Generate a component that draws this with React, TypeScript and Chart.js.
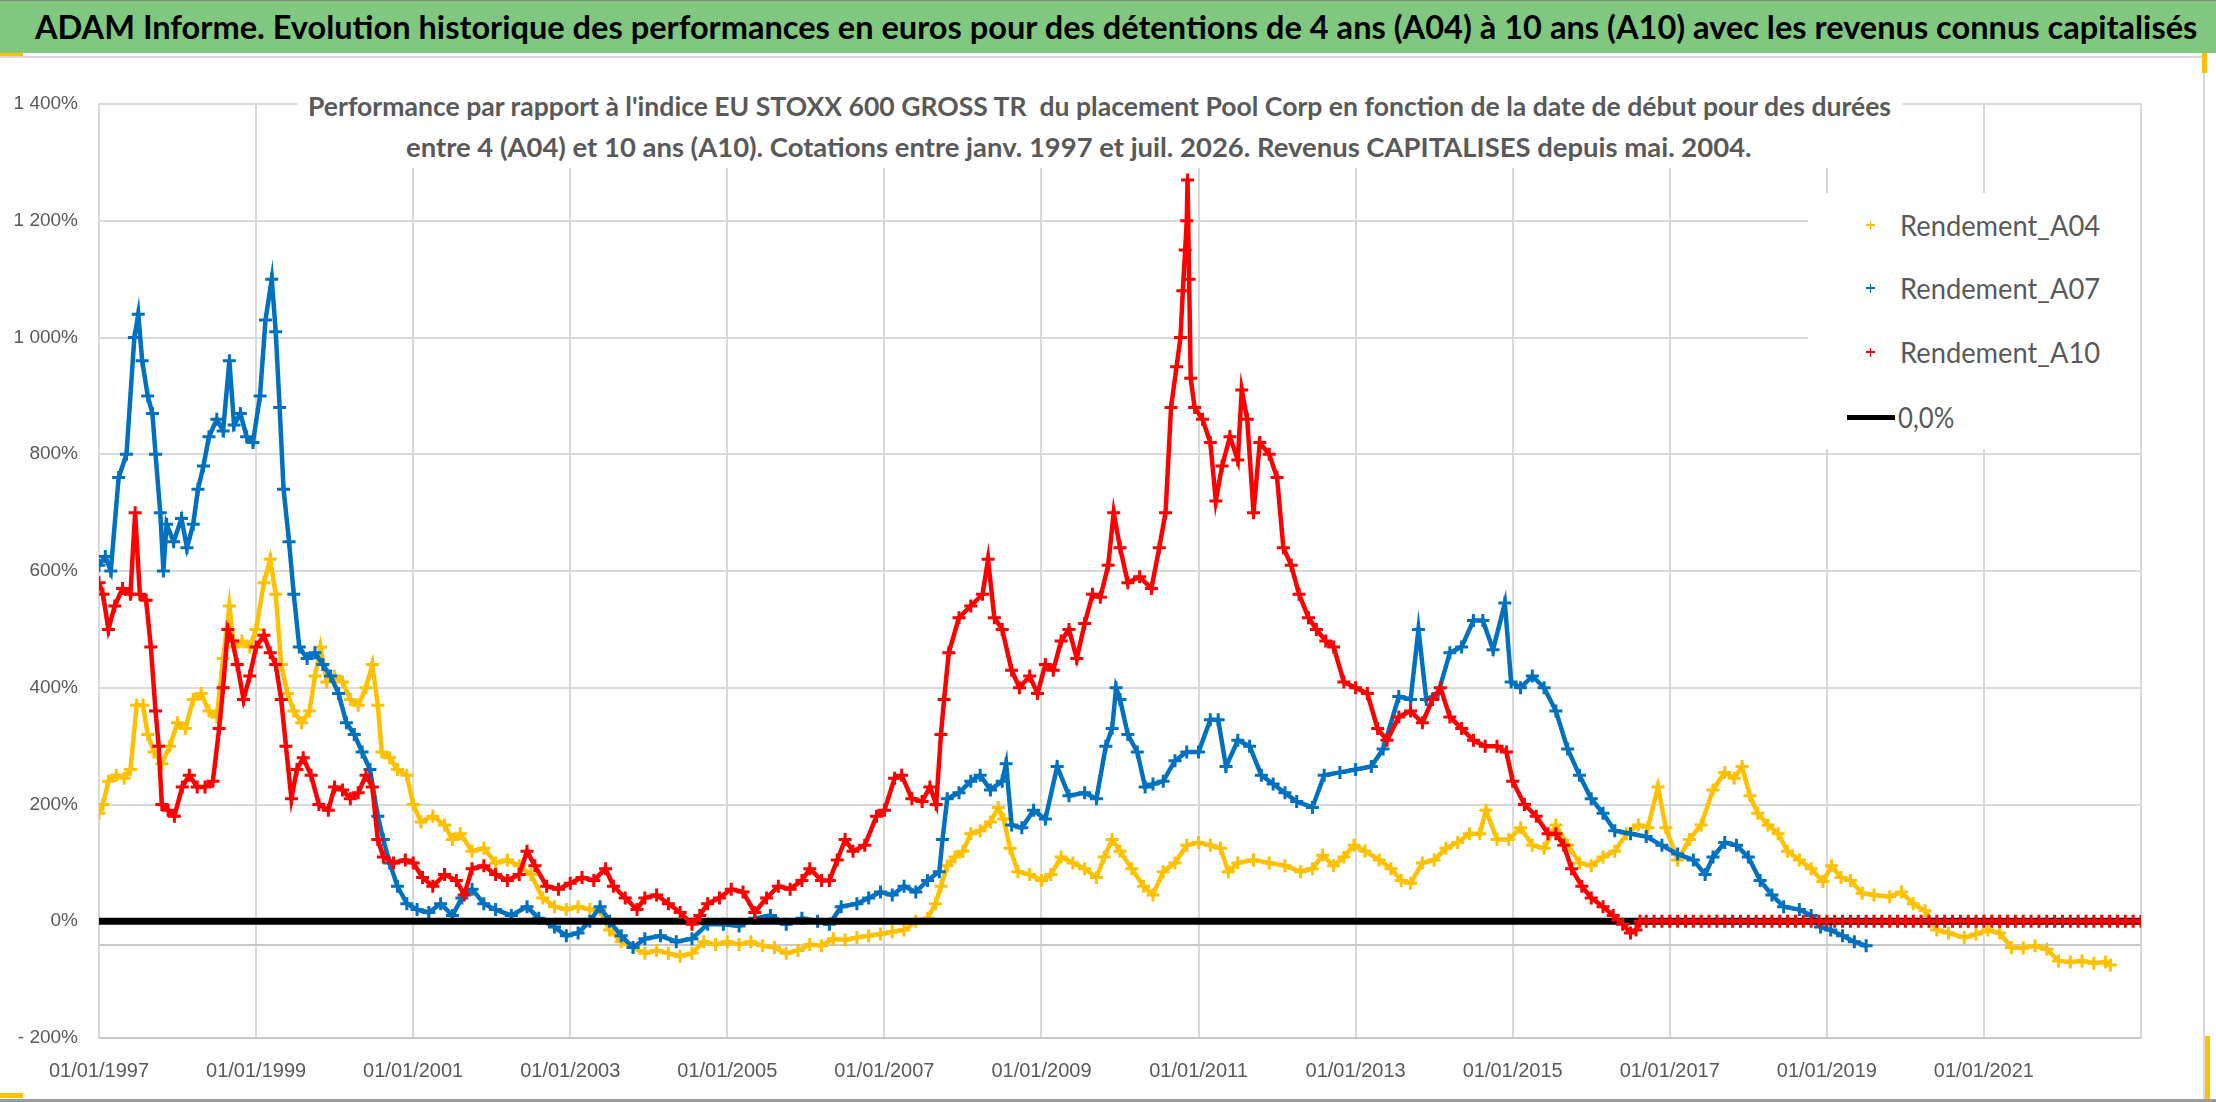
import { useEffect, useLayoutEffect, useRef } from 'react';
import { Chart, registerables } from 'chart.js';

Chart.register(...registerables);

const TEXT_FONT = "Lato, 'Liberation Sans', sans-serif";
const TICK_FONT = "'Liberation Sans', Arial, sans-serif";
const GREY_TEXT = '#595959';

const titleText =
    'ADAM Informe. Evolution historique des performances en euros pour des détentions de 4 ans (A04) à 10 ans (A10) avec les revenus connus capitalisés';
const subtitleLines = [
    "Performance par rapport à l'indice EU STOXX 600 GROSS TR  du placement Pool Corp en fonction de la date de début pour des durées",
    'entre 4 (A04) et 10 ans (A10). Cotations entre janv. 1997 et juil. 2026. Revenus CAPITALISES depuis mai. 2004.',
];

// [date as decimal year, performance in %]
const a04: [number, number][] = [
    [1997.0, 185], [1997.05, 200], [1997.12, 240], [1997.22, 250], [1997.32, 245], [1997.4, 260], [1997.48, 370],
    [1997.56, 370], [1997.62, 320], [1997.7, 290], [1997.8, 270], [1997.9, 300], [1998.0, 340], [1998.1, 330],
    [1998.2, 380], [1998.3, 390], [1998.4, 360], [1998.5, 350], [1998.58, 450], [1998.66, 540], [1998.72, 470],
    [1998.82, 480], [1998.92, 470], [1999.0, 500], [1999.1, 580], [1999.18, 620], [1999.25, 560], [1999.32, 440],
    [1999.4, 390], [1999.48, 360], [1999.58, 340], [1999.68, 360], [1999.75, 420], [1999.82, 470], [1999.9, 410],
    [2000.0, 420], [2000.1, 410], [2000.2, 380], [2000.3, 370], [2000.4, 400], [2000.48, 440], [2000.55, 370],
    [2000.6, 290], [2000.7, 280], [2000.8, 260], [2000.92, 250], [2001.0, 200], [2001.1, 170], [2001.25, 180],
    [2001.4, 165], [2001.5, 140], [2001.6, 150], [2001.75, 120], [2001.9, 125], [2002.05, 100], [2002.2, 105],
    [2002.35, 95], [2002.5, 80], [2002.65, 40], [2002.8, 25], [2002.95, 20], [2003.1, 25], [2003.25, 20],
    [2003.38, 20], [2003.5, -15], [2003.65, -35], [2003.8, -45], [2003.95, -55], [2004.1, -50], [2004.25, -55],
    [2004.4, -60], [2004.55, -55], [2004.7, -35], [2004.85, -40], [2005.0, -35], [2005.15, -40], [2005.3, -35],
    [2005.45, -42], [2005.6, -45], [2005.75, -55], [2005.9, -50], [2006.05, -40], [2006.2, -42], [2006.35, -30],
    [2006.5, -32], [2006.65, -28], [2006.8, -25], [2006.95, -22], [2007.1, -18], [2007.25, -15], [2007.4, 0],
    [2007.55, 5], [2007.65, 30], [2007.72, 60], [2007.8, 95], [2007.9, 110], [2008.0, 120], [2008.1, 150],
    [2008.22, 155], [2008.35, 170], [2008.45, 195], [2008.52, 175], [2008.6, 125], [2008.7, 85], [2008.85, 80],
    [2009.0, 70], [2009.12, 80], [2009.25, 110], [2009.4, 100], [2009.55, 90], [2009.7, 75], [2009.8, 110],
    [2009.9, 140], [2010.0, 120], [2010.15, 90], [2010.3, 60], [2010.42, 45], [2010.55, 85], [2010.7, 100],
    [2010.85, 130], [2011.0, 135], [2011.15, 130], [2011.28, 125], [2011.38, 85], [2011.5, 100], [2011.7, 105],
    [2011.9, 100], [2012.1, 95], [2012.3, 85], [2012.45, 90], [2012.58, 113], [2012.72, 95], [2012.85, 110],
    [2012.98, 130], [2013.12, 120], [2013.3, 105], [2013.45, 90], [2013.58, 70], [2013.7, 65], [2013.85, 100],
    [2014.0, 105], [2014.15, 125], [2014.3, 135], [2014.45, 150], [2014.58, 150], [2014.66, 190], [2014.8, 140],
    [2014.95, 140], [2015.1, 160], [2015.25, 130], [2015.4, 125], [2015.55, 165], [2015.7, 130], [2015.85, 100],
    [2016.0, 95], [2016.15, 110], [2016.3, 120], [2016.45, 150], [2016.6, 165], [2016.72, 160], [2016.85, 230],
    [2016.95, 160], [2017.1, 105], [2017.25, 140], [2017.4, 165], [2017.55, 225], [2017.7, 255], [2017.82, 245],
    [2017.92, 265], [2018.02, 215], [2018.12, 185], [2018.25, 165], [2018.38, 150], [2018.5, 120], [2018.65, 105],
    [2018.8, 90], [2018.95, 68], [2019.06, 95], [2019.18, 75], [2019.3, 70], [2019.45, 48], [2019.6, 45],
    [2019.8, 42], [2019.95, 50], [2020.1, 30], [2020.25, 18], [2020.4, -15], [2020.55, -20], [2020.75, -28],
    [2020.9, -22], [2021.05, -15], [2021.2, -20], [2021.35, -45], [2021.5, -46], [2021.65, -42], [2021.8, -48],
    [2021.95, -68], [2022.1, -70], [2022.25, -68], [2022.4, -72], [2022.55, -70], [2022.61, -75],
];

const a07: [number, number][] = [
    [1997.0, 610], [1997.08, 625], [1997.15, 600], [1997.25, 760], [1997.35, 800], [1997.45, 1000], [1997.5, 1040],
    [1997.55, 960], [1997.62, 900], [1997.68, 870], [1997.72, 800], [1997.78, 700], [1997.82, 600], [1997.86, 680],
    [1997.95, 650], [1998.05, 690], [1998.12, 640], [1998.2, 680], [1998.26, 740], [1998.33, 780], [1998.4, 830],
    [1998.5, 860], [1998.58, 840], [1998.66, 960], [1998.72, 850], [1998.8, 870], [1998.88, 830], [1998.96, 820],
    [1999.05, 900], [1999.12, 1030], [1999.2, 1100], [1999.25, 1010], [1999.3, 880], [1999.35, 740], [1999.42, 650],
    [1999.48, 560], [1999.55, 470], [1999.65, 450], [1999.75, 460], [1999.85, 440], [1999.95, 420], [2000.05, 390],
    [2000.15, 340], [2000.25, 320], [2000.35, 290], [2000.45, 260], [2000.55, 180], [2000.62, 140], [2000.7, 100],
    [2000.8, 60], [2000.92, 30], [2001.05, 20], [2001.2, 15], [2001.35, 30], [2001.5, 10], [2001.62, 40],
    [2001.75, 55], [2001.9, 30], [2002.05, 20], [2002.25, 10], [2002.45, 25], [2002.6, 5], [2002.8, -10],
    [2002.95, -25], [2003.1, -20], [2003.25, 0], [2003.38, 25], [2003.5, 0], [2003.65, -25], [2003.8, -45],
    [2003.95, -30], [2004.15, -25], [2004.35, -35], [2004.55, -30], [2004.75, -5], [2004.95, -5], [2005.15, -8],
    [2005.35, 5], [2005.55, 10], [2005.75, -5], [2005.95, 5], [2006.15, 0], [2006.3, -5], [2006.45, 25],
    [2006.65, 30], [2006.8, 40], [2006.95, 50], [2007.1, 45], [2007.25, 60], [2007.4, 50], [2007.55, 70],
    [2007.7, 85], [2007.74, 140], [2007.8, 210], [2007.95, 220], [2008.1, 240], [2008.22, 250], [2008.35, 225],
    [2008.5, 240], [2008.55, 270], [2008.62, 165], [2008.75, 160], [2008.9, 190], [2009.05, 175], [2009.2, 265],
    [2009.35, 215], [2009.55, 220], [2009.7, 210], [2009.82, 300], [2009.9, 330], [2009.95, 400], [2010.0, 380],
    [2010.1, 320], [2010.22, 290], [2010.32, 230], [2010.42, 235], [2010.55, 240], [2010.7, 275], [2010.85, 290],
    [2011.0, 290], [2011.15, 345], [2011.25, 345], [2011.35, 265], [2011.5, 310], [2011.65, 300], [2011.8, 250],
    [2011.95, 235], [2012.1, 220], [2012.25, 205], [2012.45, 195], [2012.6, 250], [2012.8, 255], [2013.0, 260],
    [2013.2, 265], [2013.35, 295], [2013.55, 385], [2013.7, 380], [2013.8, 500], [2013.9, 380], [2014.05, 390],
    [2014.2, 460], [2014.35, 470], [2014.5, 515], [2014.62, 515], [2014.75, 465], [2014.9, 545], [2014.98, 410],
    [2015.1, 400], [2015.25, 420], [2015.4, 400], [2015.55, 360], [2015.7, 295], [2015.85, 250], [2016.0, 210],
    [2016.15, 185], [2016.3, 155], [2016.5, 150], [2016.7, 145], [2016.9, 130], [2017.1, 115], [2017.3, 105],
    [2017.45, 80], [2017.55, 110], [2017.7, 135], [2017.85, 130], [2018.0, 110], [2018.15, 70], [2018.3, 45],
    [2018.45, 25], [2018.65, 20], [2018.8, 10], [2018.92, -10], [2019.05, -15], [2019.2, -25], [2019.35, -35],
    [2019.5, -42],
];

const a10: [number, number][] = [
    [1997.0, 580], [1997.05, 560], [1997.12, 500], [1997.2, 540], [1997.3, 570], [1997.4, 560], [1997.46, 700],
    [1997.52, 560], [1997.6, 550], [1997.66, 470], [1997.72, 360], [1997.76, 300], [1997.8, 200], [1997.88, 190],
    [1997.96, 180], [1998.06, 230], [1998.15, 250], [1998.25, 230], [1998.35, 230], [1998.45, 240], [1998.53, 330],
    [1998.58, 400], [1998.64, 500], [1998.7, 480], [1998.76, 440], [1998.84, 380], [1998.92, 420], [1999.0, 470],
    [1999.1, 490], [1999.18, 460], [1999.25, 440], [1999.32, 380], [1999.38, 300], [1999.45, 210], [1999.52, 260],
    [1999.6, 280], [1999.7, 250], [1999.8, 200], [1999.92, 190], [2000.0, 230], [2000.1, 225], [2000.2, 210],
    [2000.3, 220], [2000.4, 250], [2000.48, 230], [2000.55, 140], [2000.62, 110], [2000.75, 100], [2000.9, 105],
    [2001.0, 100], [2001.12, 75], [2001.25, 60], [2001.4, 80], [2001.55, 70], [2001.65, 45], [2001.75, 90],
    [2001.9, 95], [2002.05, 80], [2002.2, 70], [2002.35, 80], [2002.45, 120], [2002.55, 95], [2002.7, 60],
    [2002.85, 55], [2003.0, 65], [2003.15, 75], [2003.3, 70], [2003.45, 90], [2003.55, 60], [2003.7, 40],
    [2003.85, 20], [2003.95, 40], [2004.1, 45], [2004.25, 30], [2004.4, 15], [2004.55, -5], [2004.65, 10],
    [2004.75, 30], [2004.9, 40], [2005.05, 55], [2005.2, 50], [2005.35, 15], [2005.5, 40], [2005.65, 60],
    [2005.8, 55], [2005.95, 70], [2006.05, 90], [2006.2, 70], [2006.3, 70], [2006.4, 105], [2006.5, 140],
    [2006.6, 120], [2006.75, 130], [2006.9, 180], [2007.0, 190], [2007.13, 245], [2007.22, 250], [2007.35, 210],
    [2007.48, 205], [2007.58, 230], [2007.66, 200], [2007.72, 320], [2007.76, 380], [2007.82, 460], [2007.95, 520],
    [2008.1, 540], [2008.25, 560], [2008.32, 620], [2008.4, 520], [2008.5, 500], [2008.62, 430], [2008.72, 400],
    [2008.85, 420], [2008.95, 390], [2009.05, 440], [2009.15, 430], [2009.25, 480], [2009.35, 500], [2009.45, 450],
    [2009.55, 510], [2009.65, 560], [2009.75, 555], [2009.85, 610], [2009.92, 700], [2010.0, 640], [2010.1, 580],
    [2010.25, 590], [2010.4, 570], [2010.5, 640], [2010.58, 700], [2010.65, 880], [2010.72, 950], [2010.77, 1000],
    [2010.8, 1080], [2010.83, 1150], [2010.85, 1200], [2010.86, 1270], [2010.88, 1100], [2010.9, 930], [2010.95, 880],
    [2011.05, 860], [2011.15, 820], [2011.22, 720], [2011.3, 780], [2011.4, 830], [2011.5, 790], [2011.55, 910],
    [2011.62, 860], [2011.7, 700], [2011.78, 820], [2011.9, 800], [2012.0, 760], [2012.08, 640], [2012.18, 610],
    [2012.28, 560], [2012.4, 520], [2012.5, 500], [2012.62, 480], [2012.72, 470], [2012.85, 410], [2013.0, 400],
    [2013.15, 390], [2013.28, 330], [2013.4, 310], [2013.55, 350], [2013.7, 360], [2013.85, 340], [2013.98, 380],
    [2014.08, 400], [2014.2, 350], [2014.35, 330], [2014.5, 310], [2014.65, 300], [2014.8, 300], [2014.92, 290],
    [2015.0, 240], [2015.15, 200], [2015.3, 180], [2015.45, 150], [2015.55, 150], [2015.65, 130], [2015.75, 90],
    [2015.88, 60], [2016.0, 40], [2016.15, 25], [2016.28, 10], [2016.4, -5], [2016.5, -20], [2016.57, -15],
    [2016.62, 0], [2016.7, 0], [2016.8, 0], [2016.9, 0], [2017.0, 0], [2017.1, 0], [2017.2, 0], [2017.3, 0],
    [2017.4, 0], [2017.5, 0], [2017.6, 0], [2017.7, 0], [2017.8, 0], [2017.9, 0], [2018.0, 0], [2018.1, 0],
    [2018.2, 0], [2018.3, 0], [2018.4, 0], [2018.5, 0], [2018.6, 0], [2018.7, 0], [2018.8, 0], [2018.9, 0],
    [2019.0, 0], [2019.1, 0], [2019.2, 0], [2019.3, 0], [2019.4, 0], [2019.5, 0], [2019.6, 0], [2019.7, 0],
    [2019.8, 0], [2019.9, 0], [2020.0, 0], [2020.1, 0], [2020.2, 0], [2020.3, 0], [2020.4, 0], [2020.5, 0],
    [2020.6, 0], [2020.7, 0], [2020.8, 0], [2020.9, 0], [2021.0, 0], [2021.1, 0], [2021.2, 0], [2021.3, 0],
    [2021.4, 0], [2021.5, 0], [2021.6, 0], [2021.7, 0], [2021.8, 0], [2021.9, 0], [2022.0, 0], [2022.1, 0],
    [2022.2, 0], [2022.3, 0], [2022.4, 0], [2022.5, 0], [2022.6, 0], [2022.7, 0], [2022.8, 0], [2022.9, 0],
    [2023.0, 0],
];

const zeroLine: [number, number][] = [[1997.0, 0], [2023.0, 0]];

const xTickYears = [1997, 1999, 2001, 2003, 2005, 2007, 2009, 2011, 2013, 2015, 2017, 2019, 2021, 2023];
const yTickValues = [-200, 0, 200, 400, 600, 800, 1000, 1200, 1400];
const axisCross = -40;

const series = [
    { name: 'Rendement_A04', color: '#FFC000', points: a04 },
    { name: 'Rendement_A07', color: '#0070C0', points: a07 },
    { name: 'Rendement_A10', color: '#FF0000', points: a10 },
];
const zeroName = '0,0%';

const toXY = (pts: [number, number][]) => pts.map(([x, y]) => ({ x, y }));

const pctLabel = (v: number) => {
    if (v === axisCross) return '';
    const a = Math.abs(v);
    const s = a >= 1000 ? `${Math.floor(a / 1000)} ${String(a % 1000).padStart(3, '0')}` : `${a}`;
    return v < 0 ? `- ${s}%` : `${s}%`;
};

// text squeezed horizontally to the width it has in the picture (the source font is narrower)
const FitText = ({ text, left, centerY, width, size, bold, color, lineH }: any) => {
    const ref = useRef<HTMLSpanElement | null>(null);
    useLayoutEffect(() => {
        const fit = () => {
            const el = ref.current;
            if (!el) return;
            el.style.transform = 'none';
            const w = el.offsetWidth;
            if (w > 0) el.style.transform = `scaleX(${width / w})`;
        };
        fit();
        document.fonts?.ready.then(fit);
    }, [text, width]);
    return (
        <span
            ref={ref}
            style={{
                position: 'absolute', left, top: centerY - lineH / 2, height: lineH, lineHeight: `${lineH}px`,
                display: 'inline-block', whiteSpace: 'pre', transformOrigin: 'left center',
                fontFamily: TEXT_FONT, fontSize: size, fontWeight: bold ? 'bold' : 'normal', color,
            }}
        >
            {text}
        </span>
    );
};

const PerformanceChart = () => {
    const chartRef = useRef<HTMLCanvasElement | null>(null);

    useEffect(() => {
        const ctx = chartRef.current?.getContext('2d');
        if (!ctx) return;

        const scatterSet = (s: typeof series[number], order: number) => ({
            label: s.name,
            data: toXY(s.points),
            borderColor: s.color,
            backgroundColor: s.color,
            pointStyle: 'cross',
            pointRadius: 6.5,
            pointBorderWidth: 3,
            showLine: true,
            borderWidth: 4.5,
            order,
        });

        const config: any = {
            type: 'scatter',
            data: {
                datasets: [
                    scatterSet(series[2], 1),
                    {
                        label: zeroName,
                        data: toXY(zeroLine),
                        borderColor: '#000000',
                        borderWidth: 7,
                        pointRadius: 0,
                        showLine: true,
                        order: 2,
                    },
                    scatterSet(series[1], 3),
                    scatterSet(series[0], 4),
                ],
            },
            options: {
                animation: false,
                responsive: false,
                maintainAspectRatio: false,
                layout: { padding: { top: 47, right: 59, left: 0, bottom: 0 } },
                plugins: {
                    legend: { display: false },
                    title: { display: false },
                    tooltip: { enabled: false },
                },
                scales: {
                    x: {
                        type: 'linear',
                        min: 1997,
                        max: 2023,
                        afterBuildTicks: (scale: any) => {
                            scale.ticks = xTickYears.map((v) => ({ value: v }));
                        },
                        afterFit: (scale: any) => {
                            scale.height = 64;
                        },
                        grid: { color: '#D9D9D9', lineWidth: 2, drawTicks: false },
                        border: { display: false },
                        ticks: {
                            padding: 21,
                            color: GREY_TEXT,
                            autoSkip: false,
                            maxRotation: 0,
                            font: { family: TICK_FONT, size: 20 },
                            callback: (v: number) => (v === 2023 ? '' : `01/01/${v}`),
                        },
                    },
                    y: {
                        type: 'linear',
                        min: -200,
                        max: 1400,
                        afterBuildTicks: (scale: any) => {
                            scale.ticks = [...yTickValues, axisCross]
                                .sort((a, b) => a - b)
                                .map((v) => ({ value: v }));
                        },
                        afterFit: (scale: any) => {
                            scale.width = 99;
                        },
                        grid: {
                            color: (c: any) =>
                                c.tick && (c.tick.value === axisCross || c.tick.value === -200) ? '#C8C8C8' : '#D9D9D9',
                            lineWidth: 2,
                            drawTicks: false,
                        },
                        border: { display: false },
                        ticks: {
                            padding: 21,
                            color: GREY_TEXT,
                            autoSkip: false,
                            font: { family: TICK_FONT, size: 19 },
                            callback: (v: number) => pctLabel(v),
                        },
                    },
                },
            },
        };

        const myChart = new Chart(ctx, config);
        return () => {
            myChart.destroy();
        };
    }, []);

    return <canvas ref={chartRef} width={2200} height={1045} style={{ position: 'absolute', left: 0, top: 57, width: 2200, height: 1045 }} />;
};

const legendRowsY = [225, 288, 352, 417];

const App = () => {
    return (
        <div style={{ position: 'absolute', left: 0, top: 0, width: 2216, height: 1102, background: '#ffffff', overflow: 'hidden' }}>
            <div
                style={{
                    position: 'absolute', left: 0, top: 0, width: 2216, height: 53, background: '#80C87F',
                    borderTop: '1px solid #7a8a7a', boxSizing: 'border-box',
                }}
            />
            <FitText text={titleText} left={35} centerY={27} width={2162} size={32} bold color="#000000" lineH={44} />
            <div style={{ position: 'absolute', left: 0, top: 53, width: 23, height: 4, background: '#FFC000' }} />
            <div style={{ position: 'absolute', left: 0, top: 56, width: 2204, height: 2, background: '#D9D9D9' }} />
            <div style={{ position: 'absolute', left: 2203, top: 57, width: 2, height: 1043, background: '#D9D9D9' }} />
            <div style={{ position: 'absolute', left: 2202, top: 53, width: 5, height: 20, background: '#FFC000' }} />
            <div style={{ position: 'absolute', left: 2205, top: 1036, width: 5, height: 64, background: '#FFC000' }} />
            <div style={{ position: 'absolute', left: 0, top: 1093, width: 23, height: 5, background: '#FFC000' }} />
            <div style={{ position: 'absolute', left: 0, top: 1099, width: 2216, height: 3, background: '#9a9a9a' }} />

            <PerformanceChart />

            <div style={{ position: 'absolute', left: 297, top: 86, width: 1606, height: 82, background: '#ffffff' }} />
            <FitText text={subtitleLines[0]} left={308} centerY={106} width={1583} size={27} bold color={GREY_TEXT} lineH={38} />
            <FitText text={subtitleLines[1]} left={406} centerY={147} width={1346} size={27} bold color={GREY_TEXT} lineH={38} />

            <div style={{ position: 'absolute', left: 1808, top: 193, width: 332, height: 256, background: '#ffffff' }} />
            {series.map((s, i) => (
                <div key={s.name}>
                    <div style={{ position: 'absolute', left: 1866, top: legendRowsY[i] - 0.75, width: 9, height: 1.5, background: s.color }} />
                    <div style={{ position: 'absolute', left: 1869.75, top: legendRowsY[i] - 4.5, width: 1.5, height: 9, background: s.color }} />
                    <FitText text={s.name} left={1900} centerY={legendRowsY[i]} width={200} size={28} color={GREY_TEXT} lineH={40} />
                </div>
            ))}
            <div style={{ position: 'absolute', left: 1847, top: legendRowsY[3] - 2.5, width: 48, height: 5, background: '#000000' }} />
            <FitText text={zeroName} left={1898} centerY={legendRowsY[3]} width={56} size={28} color={GREY_TEXT} lineH={40} />
        </div>
    );
};

export default App;
